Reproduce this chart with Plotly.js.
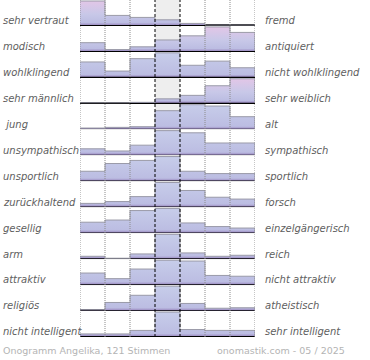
<!DOCTYPE html>
<html><head><meta charset="utf-8">
<script src="https://cdn.plot.ly/plotly-3.0.1.min.js"></script>
<style>html,body{margin:0;padding:0;background:#fff}#chart{width:370px;height:360px}</style>
</head><body><div id="chart"></div>
<script>
// Vote counts per scale step (7 steps, left pole -> right pole), 121 votes
const vertraut      = [60, 24, 19, 13, 4, 0, 0];
const modisch       = [12, 2, 6, 16, 22, 35, 27];
const wohlklingend  = [18, 7, 22, 29, 14, 19, 11];
const maennlich     = [0, 0, 1, 9, 17, 39, 55];
const jung          = [1, 2, 3, 27, 36, 34, 18];
const unsympathisch = [8, 5, 13, 33, 30, 16, 16];
const unsportlich   = [12, 22, 26, 31, 12, 9, 9];
const zurueckhaltend= [5, 8, 16, 39, 26, 15, 12];
const gesellig      = [14, 17, 30, 33, 13, 8, 6];
const arm           = [6, 0, 13, 71, 16, 6, 9];
const attraktiv     = [14, 7, 19, 30, 29, 11, 10];
const religioes     = [1, 16, 31, 50, 14, 4, 5];
const intelligent   = [5, 5, 13, 55, 15, 13, 13];

const leftLabels  = ['sehr vertraut','modisch','wohlklingend','sehr männlich',' jung','unsympathisch','unsportlich','zurückhaltend','gesellig','arm','attraktiv','religiös','nicht intelligent'];
const rightLabels = ['fremd','antiquiert','nicht wohlklingend','sehr weiblich','alt','sympathisch','sportlich','forsch','einzelgängerisch','reich','nicht attraktiv','atheistisch','sehr intelligent'];
const footerLeft  = 'Onogramm Angelika, 121 Stimmen';
const footerRight = 'onomastik.com - 05 / 2025';

const rows = [vertraut, modisch, wohlklingend, maennlich, jung, unsympathisch, unsportlich,
              zurueckhaltend, gesellig, arm, attraktiv, religioes, intelligent];
const steps = [0,1,2,3,4,5,6,7];

const N = rows.length;
const data = [];
const layout = {
  width: 370, height: 360,
  margin: {l: 80, r: 115, t: 0, b: 23},
  paper_bgcolor: '#fff', plot_bgcolor: 'rgba(0,0,0,0)',
  showlegend: false,
  xaxis: {range: [0, 7], showgrid: false, zeroline: false, showticklabels: false, ticks: '', showline: false, anchor: 'y' + N, fixedrange: true},
  shapes: [], annotations: []
};
const labelFont = {family: 'DejaVu Sans', size: 10, color: '#606060', style: 'italic'};

// centre column background
layout.shapes.push({type: 'rect', xref: 'x', yref: 'paper', x0: 3, x1: 4, y0: 0, y1: 1,
  fillcolor: '#eeeeee', line: {width: 0}, layer: 'below'});

rows.forEach((vals, i) => {
  const ax = i === 0 ? 'y' : 'y' + (i + 1);
  const axName = i === 0 ? 'yaxis' : 'yaxis' + (i + 1);
  const mx = Math.max(...vals);
  const peak = vals.indexOf(mx);
  const pink = (peak < 2 || peak > 4);
  const cs = pink
    ? [[0, '#9d8dc2'], [0.1, '#bcbde2'], [0.45, '#c8c8e8'], [1, '#e2c6e7']]
    : [[0, '#9d8dc2'], [0.1, '#bcbde2'], [1, '#c7cdea']];
  const xs = steps.concat([7]);
  const ys = vals.concat([vals[6], 0]);
  data.push({
    type: 'scatter', mode: 'lines', x: xs, y: ys, xaxis: 'x', yaxis: ax,
    line: {shape: 'hv', color: '#9a9aa8', width: 1},
    fill: 'tozeroy', fillgradient: {type: 'vertical', colorscale: cs, start: 0, stop: mx},
    hoverinfo: 'skip'
  });
  const top = 1 - i / N, bot = 1 - (i + 1) / N;
  layout[axName] = {
    domain: [bot, top], range: [-0.038 * mx, 1.042 * mx], anchor: 'x',
    showgrid: false, showticklabels: false, ticks: '', showline: false,
    zeroline: true, zerolinecolor: '#000', zerolinewidth: 1.5, layer: 'above traces', fixedrange: true
  };
  // soft shadow under the baseline
  layout.shapes.push({type: 'line', xref: 'x', yref: ax, x0: 0, x1: 7, y0: -0.025 * mx, y1: -0.025 * mx,
    line: {color: '#d2d2d2', width: 2.5}, layer: 'below'});
  layout.annotations.push({
    xref: 'paper', yref: ax + ' domain', x: -79 / 175, y: 0.2, xanchor: 'left', yanchor: 'middle',
    text: leftLabels[i], showarrow: false, font: labelFont
  });
  layout.annotations.push({
    xref: 'paper', yref: ax + ' domain', x: 183 / 175, y: 0.2, xanchor: 'left', yanchor: 'middle',
    text: rightLabels[i], showarrow: false, font: labelFont
  });
});

[0, 1, 2, 5, 6, 7].forEach(v => layout.shapes.push({type: 'line', xref: 'x', yref: 'paper',
  x0: v, x1: v, y0: 0, y1: 1, line: {color: '#8c8c8c', width: 1, dash: '1px,1px'}, layer: 'above'}));
[3, 4].forEach(v => layout.shapes.push({type: 'line', xref: 'x', yref: 'paper',
  x0: v, x1: v, y0: 0, y1: 1, line: {color: '#000', width: 1, dash: '3px,2px'}, layer: 'above'}));

const footFont = {family: 'DejaVu Sans', size: 9.5, color: '#b4b4b4'};
layout.annotations.push({xref: 'paper', yref: 'paper', x: -79 / 175, y: -13 / 337, xanchor: 'left', yanchor: 'middle',
  text: footerLeft, showarrow: false, font: footFont});
layout.annotations.push({xref: 'paper', yref: 'paper', x: 267 / 175, y: -13 / 337, xanchor: 'right', yanchor: 'middle',
  text: footerRight, showarrow: false, font: footFont});

Plotly.newPlot('chart', data, layout, {staticPlot: true, displayModeBar: false});
</script></body></html>
